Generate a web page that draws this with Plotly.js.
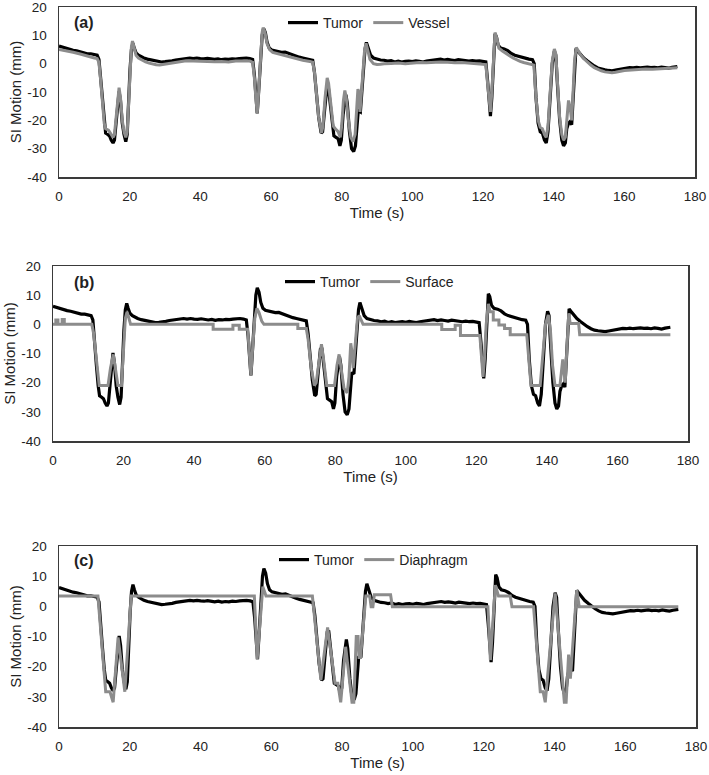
<!DOCTYPE html>
<html>
<head>
<meta charset="utf-8">
<script src="https://cdn.plot.ly/plotly-3.0.1.min.js"></script>
<style>
html,body{margin:0;padding:0;background:#fff;overflow:hidden;}
#chart{width:709px;height:775px;}
</style>
</head>
<body>
<div id="chart"></div>
<script>
// ---------- DATA ----------
const panelLabels = ["(a)", "(b)", "(c)"];
const compareNames = ["Vessel", "Surface", "Diaphragm"];
const xTicks = [0, 20, 40, 60, 80, 100, 120, 140, 160, 180];
const yTicks = [-40, -30, -20, -10, 0, 10, 20];

const tumorT = [0,1,2,3,4,5,6,7,8,9,10,10.8,11.3,11.8,12.3,12.8,13.2,13.8,14.3,14.8,15.3,15.7,16.2,16.7,17.0,17.4,17.9,18.4,18.9,19.3,19.7,20.1,20.5,20.9,21.3,21.8,22.5,23.2,24,25,26,27,28,29,30,31,32,33,34,35,36,37,38,39,40,41,42,43,44,45,46,47,48,49,50,51,52,53,54,54.8,55.3,55.7,56.1,56.5,57,57.5,57.9,58.4,58.9,59.5,60.2,61,62,63,64,65,66,67,68,69,70,71,71.8,72.3,72.8,73.5,74.2,74.6,75.2,75.8,76.2,76.6,77.2,77.8,78.4,79.0,79.5,79.9,80.4,80.9,81.2,81.6,82.2,82.8,83.4,83.9,84.3,84.7,85.3,85.7,86.2,86.6,87.0,87.5,88.2,89,90,91,92,93,94,95,96,97,98,99,100,101,102,103,104,105,106,107,108,109,110,111,112,113,114,115,116,117,118,119,120,120.8,121.3,121.8,122.1,122.5,123,123.4,123.8,124.3,125,126,127,128,129,130,131,132,133,134,134.5,135,135.6,136.2,136.8,137.4,137.9,138.4,139,139.6,140.2,140.6,141.1,141.7,142.3,142.8,143.3,143.7,144.2,144.6,145.1,145.5,145.9,146.3,146.8,147.5,148.5,149.5,150.5,151.5,152.5,153.5,154.5,155.5,156.5,157.5,158.5,159.5,160.5,161.5,162.5,163.5,164.5,165.5,166.5,167.5,168.5,169.5,170.5,171.5,172.5,173.5,174.5,175];
const tumorV = [6.2,5.8,5.4,5.1,4.7,4.5,4.1,3.9,3.5,3.5,3.2,3.0,1.5,-5,-14,-21,-24.5,-25,-25.5,-27,-28,-27,-20,-12,-9.8,-13,-21,-25,-27.5,-25,-12,-2,5,7.2,5.5,3.8,3.0,2.4,2.0,1.6,1.3,1.1,0.8,0.6,0.7,0.8,1.0,1.3,1.5,1.7,1.9,2.0,1.8,2.0,1.8,1.7,1.9,1.6,1.5,1.7,1.4,1.6,1.5,1.7,1.6,1.8,1.9,2.0,1.8,1.5,-4,-12,-17.5,-10,2,10,12.5,11,7.5,5.5,4.8,4.5,4.2,4.0,4.1,3.6,3.0,2.7,2.3,2.0,1.8,1.5,1.2,-3,-10,-19,-24.5,-24,-16,-8.5,-8,-12,-20,-25.5,-26,-26.5,-29,-27,-18,-12,-11,-14,-24,-30,-31,-29,-21,-16.5,-17,-10,-1,5,7.5,5.5,3.0,2.0,1.6,1.3,1.2,0.9,1.1,0.6,0.9,0.6,0.8,0.9,0.7,1.0,0.8,0.6,0.9,1.1,1.2,1.4,1.6,1.3,1.5,1.3,1.1,1.4,1.2,1.0,0.9,1.1,0.9,1.0,0.8,0.6,-6,-15,-18.5,-12,3,10.5,9.5,6.5,5.5,5.2,4.6,3.6,3.0,2.6,2.2,1.8,1.6,1.4,0,-12,-21,-24,-24.5,-27,-28,-24,-10,0,4.5,3,-8,-20,-27,-29,-28,-23,-21,-20.5,-21.5,-12,0,5.3,4.5,3.3,2.0,1.0,0,-0.8,-1.5,-2.0,-2.2,-2.4,-2.5,-2.3,-2.1,-1.7,-1.6,-1.4,-1.5,-1.3,-1.5,-1.4,-1.2,-1.4,-1.3,-1.5,-1.2,-1.4,-1.6,-1.3,-1.1,-1.0];

const vesselT = [0,2,4,6,8,10,10.8,11.3,11.8,12.3,12.8,13.2,14,14.8,15.3,15.7,16.2,16.7,17.0,17.4,17.9,18.4,18.9,19.3,19.7,20.1,20.5,20.8,21.3,21.8,22.5,23.5,24.5,25.5,26.5,27.5,28.5,29.5,30.5,31.5,32.5,34,36,38,40,42,44,46,48,50,52,54,54.8,55.3,55.7,56.1,56.5,57,57.5,57.8,58.3,58.9,59.6,60.5,62,63.5,65,67,69,71,71.8,72.3,72.8,73.5,74.3,74.7,75.3,75.9,76.3,76.9,77.6,78.2,79,79.6,80,80.5,80.9,81.3,81.9,82.6,83.2,83.8,84.3,84.6,84.9,85.2,85.6,86.1,86.5,86.9,87.4,88,89,90,91,92,94,96,98,100,102,104,106,108,110,112,114,116,118,120,120.8,121.3,121.8,122.1,122.5,123,123.4,123.9,124.5,125.5,126.5,127.5,128.5,129.5,130.5,131.5,132.5,133.5,134.4,135,135.6,136.2,136.8,137.4,137.9,138.4,139,139.6,140.2,140.6,141.1,141.7,142.3,142.8,143.3,143.7,144.2,144.6,145.1,145.5,145.9,146.4,146.9,147.6,148.5,149.5,150.5,151.5,152.5,153.5,154.5,155.5,156.5,157.5,158.5,160,162,164,166,168,170,172,174,175];
const vesselV = [5.0,4.6,4.0,3.4,2.6,2.0,1.8,0.5,-6,-14,-21,-23,-23.5,-25,-26,-25,-18,-10,-8.5,-12,-20,-24,-26,-24,-12,-1,6,8,5,3,2.0,1.2,0.6,0.2,-0.2,-0.4,-0.5,-0.3,0,0.2,0.5,0.8,1.0,0.9,0.8,0.9,0.7,0.8,0.6,0.9,1.0,0.9,0.5,-5,-12,-17.7,-10,3,11,12.7,11,7,5,4.0,3.5,3.2,2.6,1.8,1.2,0.8,0.5,-3,-10,-19,-24.5,-22,-12,-5,-7,-15,-22,-23,-24,-26,-22,-13,-9.5,-12,-20,-26,-27.5,-25,-16,-9,-10,-17,-10,0,5,7.2,4.5,1.5,0,-0.3,-0.2,0,0.1,0.2,0,0.3,0.4,0.3,0.5,0.6,0.5,0.3,0.4,0.2,0.1,0,-0.3,-7,-15,-17,-10,5,11,9,5.5,4.5,3.8,2.8,2,1.3,0.8,0.4,0.1,0,-0.5,-12,-20,-22.5,-23,-25,-26,-22,-9,1,5.2,3.5,-7,-19,-25,-27,-26,-20,-13,-15,-20,-10,1,5.7,4.5,3.2,1.8,0.5,-0.5,-1.4,-2.0,-2.5,-2.9,-3.1,-3.2,-3.0,-2.7,-2.4,-2.2,-2.0,-1.9,-2.0,-1.8,-1.7,-1.5,-1.4];

const surfaceT = [0,0.8,0.8,1.4,1.4,2.6,2.6,3.2,3.2,11,11.5,12.5,13.1,15.6,16.3,17.1,17.8,18.4,19.4,19.9,20.5,21.0,21.5,22.0,45.4,45.4,51,51,52.8,52.8,55.2,55.6,56.1,56.6,57.2,57.8,58.4,59.2,59.8,69.4,69.4,71.8,72.3,73.2,74.1,74.6,75.4,76.1,76.8,77.6,79.8,80.5,81.1,81.8,82.5,83.4,83.9,84.4,84.8,85.1,85.6,86.3,86.8,87.4,87.9,110.2,110.2,114,114,115.5,115.5,121,121.4,121.9,122.3,122.8,123.4,123.9,124.8,124.8,126.4,126.4,128,128,129.6,129.6,134.3,134.9,135.5,138.1,138.8,139.6,140.4,141.0,141.6,142.3,143.7,144.2,144.5,144.9,145.2,145.6,146.2,146.6,149,149.3,175];
const surfaceV = [0,0,1.5,1.5,0,0,1.7,1.7,0,0,-3,-15,-21,-21,-15,-10.3,-16,-21,-21,-10,2,4.3,2,0,0,-1.7,-1.7,-0.3,-0.3,-1.7,-1.7,-8,-17.5,-8,2,5.5,4,1,0,0,-1.4,-1.4,-5,-15,-21,-20,-12,-6.8,-13,-21,-21,-14,-10.3,-16,-22,-23.5,-18,-6.5,-10,-15,-8,2,3,1,0,0,-1.8,-1.8,-0.3,-0.3,-3.8,-3.8,-10,-18,-12,0,7,4.3,4.3,1.5,1.5,-0.2,-0.2,-1.4,-1.4,-3.6,-3.6,-12,-21,-21,-10,0,3.2,-2,-14,-21,-21,-14,-12,-17,-20,-10,3.8,0.3,0.3,-3.6,-3.6];

const diaphragmT = [0,11,13.2,14.4,15.3,16.7,18.6,20.4,55.2,56.0,57.6,58.5,71.6,74.0,75.9,78.0,78.8,79.6,81.0,82.8,83.3,84.0,84.5,84.8,85.2,86.7,87.8,88.2,88.7,89.1,93.7,94.2,121.2,121.9,123.3,124.2,127.5,128,134.1,136.0,136.8,137.4,140.2,142.8,143.3,144.0,144.5,146.3,147,175];
const diaphragmV = [3.4,3.4,-28.3,-28.3,-31.8,-10.3,-28.3,3.4,3.4,-17.6,6.5,3.4,3.4,-24.4,-7,-25.5,-25.5,-31.8,-13.4,-31.8,-31.8,-10,-10,-17,-17,3.4,3.4,-0.1,-0.1,3.8,3.8,-0.1,-0.1,-17.8,7,3.4,3.4,-0.1,-0.1,-28.3,-28.3,-31.8,4.3,-31.8,-31.8,-16,-24,5.4,-0.1,-0.1];

const compareT = [vesselT, surfaceT, diaphragmT];
const compareV = [vesselV, surfaceV, diaphragmV];

// ---------- LAYOUT ----------
const W = 709, H = 775;
const px = v => v / W;
const py = v => 1 - v / H;
const boxes = [
  {l: 59, r: 695, t: 7, b: 177, legX: 283, legY: 23},
  {l: 53, r: 688, t: 266, b: 441, legX: 280, legY: 282},
  {l: 59, r: 696, t: 546, b: 727, legX: 274, legY: 560}
];
const font = "Liberation Sans, Arial, sans-serif";
const BLACK = "#000000", GRAY = "#8c8c8c";

const traces = [];
const layout = {
  width: W, height: H,
  margin: {l: 0, r: 0, t: 0, b: 0},
  paper_bgcolor: "#ffffff", plot_bgcolor: "#ffffff",
  font: {family: font, size: 14, color: "#222"},
  showlegend: true,
  annotations: []
};

boxes.forEach((bx, i) => {
  const n = i === 0 ? "" : String(i + 1);
  const xa = "x" + n, ya = "y" + n;
  const leg = "legend" + n;
  traces.push({
    x: tumorT, y: tumorV, type: "scatter", mode: "lines", name: "Tumor",
    xaxis: xa, yaxis: ya, legend: leg,
    line: {color: BLACK, width: 3.2}
  });
  traces.push({
    x: compareT[i], y: compareV[i], type: "scatter", mode: "lines", name: compareNames[i],
    xaxis: xa, yaxis: ya, legend: leg,
    line: {color: GRAY, width: 3}
  });
  const common = {
    showline: true, mirror: true, linecolor: "#3a3a3a", linewidth: 1.5,
    showgrid: false, zeroline: false,
    ticks: "outside", ticklen: 6, tickcolor: "rgba(0,0,0,0)",
    tickfont: {family: font, size: 13.5, color: "#222"},
    ticklabeloverflow: "allow",
    automargin: false, fixedrange: true
  };
  layout["xaxis" + n] = Object.assign({}, common, {
    domain: [px(bx.l), px(bx.r)], anchor: ya,
    range: [0, 180], tickvals: xTicks, ticktext: xTicks.map(String),
    title: {text: "Time (s)", font: {family: font, size: 15, color: "#222"}, standoff: 4}
  });
  layout["yaxis" + n] = Object.assign({}, common, {
    domain: [py(bx.b), py(bx.t)], anchor: xa,
    range: [-40, 20], tickvals: yTicks, ticktext: yTicks.map(String),
    ticklen: 8,
    title: {text: "SI Motion (mm)", font: {family: font, size: 15, color: "#222"}, standoff: 2}
  });
  layout[leg] = {
    orientation: "h", x: px(bx.legX), y: py(bx.legY), xanchor: "left", yanchor: "middle",
    bgcolor: "rgba(0,0,0,0)", borderwidth: 0,
    font: {family: font, size: 14, color: "#222"},
    itemwidth: 30, tracegroupgap: 0
  };
  layout.annotations.push({
    text: "<b>" + panelLabels[i] + "</b>", xref: "paper", yref: "paper",
    x: px(bx.l + (i === 1 ? 19 : 13)), y: py(bx.legY), xanchor: "left", yanchor: "middle",
    showarrow: false, font: {family: font, size: 16, color: "#222"}
  });
});

Plotly.newPlot("chart", traces, layout, {displayModeBar: false, staticPlot: true});
</script>
</body>
</html>
